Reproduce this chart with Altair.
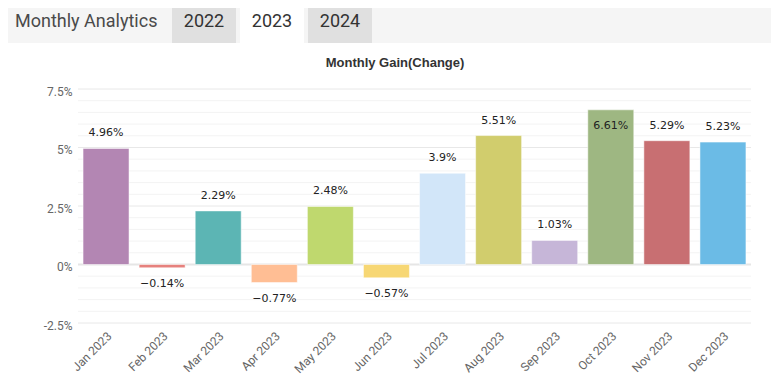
import altair as alt
import pandas as pd

months = ["Jan 2023", "Feb 2023", "Mar 2023", "Apr 2023", "May 2023", "Jun 2023",
          "Jul 2023", "Aug 2023", "Sep 2023", "Oct 2023", "Nov 2023", "Dec 2023"]
gains = [4.96, -0.14, 2.29, -0.77, 2.48, -0.57, 3.9, 5.51, 1.03, 6.61, 5.29, 5.23]
colors = ["#b386b3", "#e6817d", "#5cb5b4", "#ffbe94", "#bfd86e", "#f7d774",
          "#d2e6f9", "#d1cd6d", "#c6b6d8", "#9eb782", "#c86f72", "#6bbbe6"]
y_ticks = [-2.5, 0, 2.5, 5, 7.5]
minor_grid = [-2.0, -1.5, -1.0, -0.5, 0.5, 1.0, 1.5, 2.0, 3.0, 3.5, 4.0, 4.5,
              5.5, 6.0, 6.5, 7.0]
years = ["2022", "2023", "2024"]
active_year = "2023"

W, H = 673, 234
df = pd.DataFrame({"month": months, "gain": gains, "color": colors})
ydom = [-2.5, 7.5]
yscale = alt.Scale(domain=ydom, nice=False, zero=False)
xscale = alt.Scale(domain=months, paddingInner=0.18, paddingOuter=0.09)

yaxis = alt.Axis(values=y_ticks, labelExpr="datum.value + '%'", title=None,
                 labelColor="#666666", labelFont="Roboto", labelFontSize=12,
                 domain=False, ticks=False, grid=False, labelPadding=6,
                 labelOffset=2)
xaxis = alt.Axis(labelAngle=-45, labelColor="#666666", labelFont="Roboto",
                 labelFontSize=12, domain=False, ticks=False, title=None,
                 labelPadding=7, grid=False)

# header band
band = alt.Chart(pd.DataFrame({"a": [0]})).mark_rect(color="#f5f5f5").encode(
    x=alt.value(-70), x2=alt.value(W + 40), y=alt.value(-81), y2=alt.value(-46))

layers = [band]
tab_x0 = 94
for i, yr in enumerate(years):
    x0 = tab_x0 + i * 68
    fill = "#ffffff" if yr == active_year else "#e0e0e0"
    tab = alt.Chart(pd.DataFrame({"t": [yr]})).mark_rect(color=fill).encode(
        x=alt.value(x0), x2=alt.value(x0 + 64), y=alt.value(-86), y2=alt.value(-46))
    txt = alt.Chart(pd.DataFrame({"t": [yr]})).mark_text(
        font="Roboto", fontSize=18, color="#333333", align="center", baseline="middle"
    ).encode(text="t:N", x=alt.value(x0 + 32), y=alt.value(-67))
    layers += [tab, txt]

header_txt = alt.Chart(pd.DataFrame({"t": ["Monthly Analytics"]})).mark_text(
    font="Roboto", fontSize=18, color="#4a4a4a", align="left", baseline="middle"
).encode(text="t:N", x=alt.value(-63), y=alt.value(-67))

title_txt = alt.Chart(pd.DataFrame({"t": ["Monthly Gain(Change)"]})).mark_text(
    font="Liberation Sans", fontSize=13, fontWeight="bold", color="#333333",
    align="center", baseline="middle"
).encode(text="t:N", x=alt.value(317), y=alt.value(-26))

minor = alt.Chart(pd.DataFrame({"g": minor_grid})).mark_rule(
    color="#f3f3f3", strokeWidth=1).encode(
    y=alt.Y("g:Q", scale=yscale, axis=yaxis), x=alt.value(0), x2=alt.value(W))
major = alt.Chart(pd.DataFrame({"g": [v for v in y_ticks if v != 0]})).mark_rule(
    color="#e8e8e8", strokeWidth=1).encode(
    y=alt.Y("g:Q", scale=yscale, axis=yaxis), x=alt.value(0), x2=alt.value(W))
zero = alt.Chart(pd.DataFrame({"g": [0]})).mark_rule(
    color="#e6e6e6", strokeWidth=2).encode(
    y=alt.Y("g:Q", scale=yscale, axis=yaxis), x=alt.value(0), x2=alt.value(W))

base = alt.Chart(df)
bars = base.mark_bar(stroke="white", strokeWidth=1, strokeOpacity=0.5).encode(
    x=alt.X("month:N", scale=xscale, sort=months, axis=xaxis),
    y=alt.Y("gain:Q", scale=yscale, axis=yaxis),
    y2=alt.datum(0),
    color=alt.Color("color:N", scale=None),
)

lbl_kw = dict(font="DejaVu Sans", fontSize=11, color="#222222", align="center")
text_enc = dict(
    x=alt.X("month:N", scale=xscale, sort=months, axis=xaxis),
    y=alt.Y("gain:Q", scale=yscale, axis=yaxis),
    text=alt.Text("lbl:N"),
)
pos = base.transform_filter("datum.gain >= 0 && datum.gain < 6").transform_calculate(
    lbl="format(datum.gain, '') + '%'").mark_text(baseline="bottom", dy=-10, **lbl_kw).encode(**text_enc)
inside = base.transform_filter("datum.gain >= 6").transform_calculate(
    lbl="format(datum.gain, '') + '%'").mark_text(baseline="top", dy=10, **lbl_kw).encode(**text_enc)
neg = base.transform_filter("datum.gain < 0").transform_calculate(
    lbl="format(datum.gain, '') + '%'").mark_text(baseline="top", dy=10, **lbl_kw).encode(**text_enc)

layers += [header_txt, title_txt, minor, major, zero, bars, pos, inside, neg]

chart = alt.layer(*layers).properties(
    width=W, height=H,
    autosize=alt.AutoSizeParams(type="none"),
    padding={"left": 70, "top": 81, "right": 20, "bottom": 55},
    background="#ffffff",
).configure_view(stroke=None)

chart.save("out.html", embed_options={"renderer": "svg", "actions": False})
